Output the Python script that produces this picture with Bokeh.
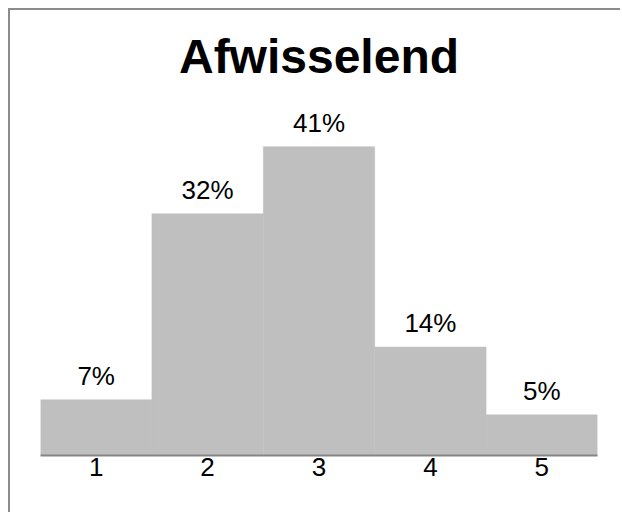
from bokeh.plotting import figure
from bokeh.models import ColumnDataSource, Range1d, FixedTicker
from bokeh.core.properties import value
from bokeh.embed import file_html
from bokeh.resources import INLINE

title_text = "Afwisselend"
categories = [1, 2, 3, 4, 5]
percentages = [7.4, 32.1, 41.0, 14.4, 5.4]
labels = [f"{round(v):d}%" for v in percentages]

FONT = "Liberation Sans"

source = ColumnDataSource(data=dict(x=categories, top=percentages, label=labels))

p = figure(width=610, height=502, output_backend="svg", toolbar_location=None,
           x_range=Range1d(0.5, 5.5), y_range=Range1d(0, 48.2),
           min_border_left=30, min_border_right=25, min_border_top=82,
           min_border_bottom=59,
           styles={"border-top": "2px solid #8c8c8c", "border-left": "2px solid #8c8c8c",
                   "margin-left": "8px", "margin-top": "8px", "box-sizing": "content-box"})

p.title.text = title_text
p.title.align = "center"
p.title.text_font = FONT
p.title.text_font_size = "48px"
p.title.text_font_style = "bold"
p.title.text_color = "#000000"
p.title.standoff = 20

p.vbar(x="x", top="top", bottom=0, width=1.0, source=source,
       fill_color="#bfbfbf", line_color="#bfbfbf", line_width=0.5)

p.text(x="x", y="top", text="label", source=source,
       text_font=value(FONT), text_font_size="26px", text_color="#000000",
       text_align="center", text_baseline="middle", y_offset=-24)

p.yaxis.visible = False
p.xgrid.visible = False
p.ygrid.visible = False
p.outline_line_color = None

ax = p.xaxis[0]
ax.ticker = FixedTicker(ticks=categories)
ax.axis_line_color = "#868686"
ax.axis_line_width = 2
ax.major_tick_line_color = None
ax.minor_tick_line_color = None
ax.major_tick_out = 0
ax.major_tick_in = 0
ax.major_label_standoff = 2
ax.major_label_text_font = FONT
ax.major_label_text_font_size = "26px"
ax.major_label_text_color = "#000000"

open("out.html", "w").write(file_html(p, INLINE))
